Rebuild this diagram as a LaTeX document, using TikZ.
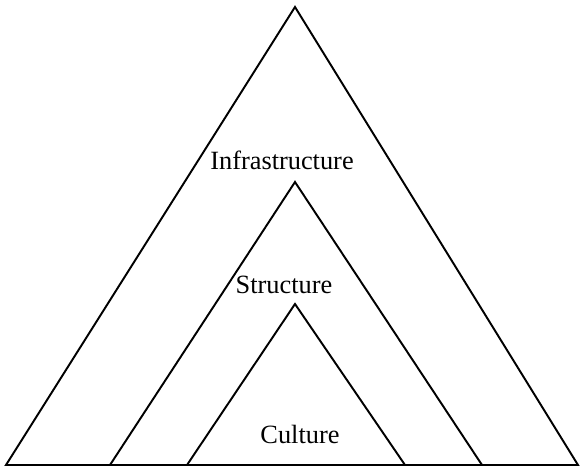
\documentclass[tikz,border=0pt]{standalone}
\usepackage{fontspec}
\setmainfont{Liberation Serif}
\begin{document}
\begin{tikzpicture}[x=0.02cm,y=-0.02cm,line width=1.1pt,
		lbl/.style={font=\fontsize{15}{18}\selectfont,inner sep=0pt}]
			\useasboundingbox (0,0) rectangle (583,472);
			\draw[line join=miter] (295,7) -- (578,465) -- (6,465) -- cycle;
			\draw[line join=miter] (295,182) -- (482,465) -- (110,465) -- cycle;
			\draw[line join=miter] (295,304) -- (405,465) -- (187,465) -- cycle;
			\node[lbl] (infra) at (282,160) {Infrastructure};
			\node[lbl] (struct) at (284,285) {Structure};
			\node[lbl] (cult) at (300,434) {Culture};
		\end{tikzpicture}
\end{document}
